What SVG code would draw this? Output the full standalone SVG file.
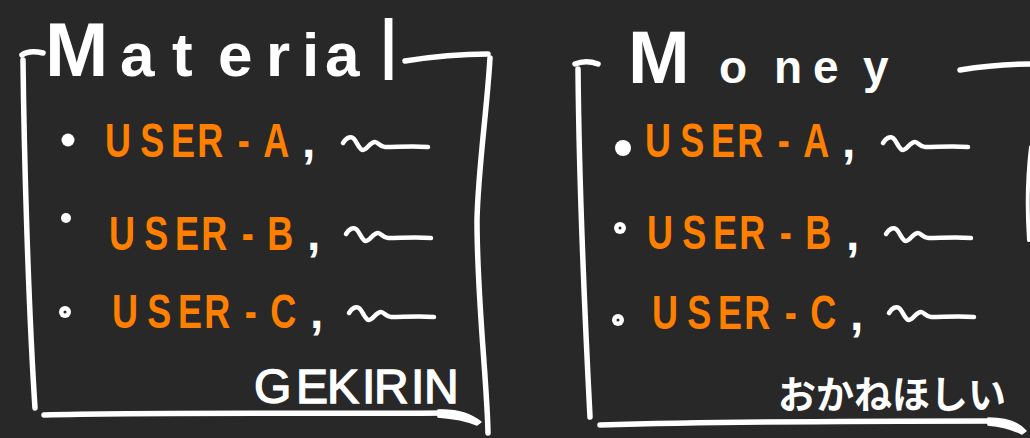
<svg xmlns="http://www.w3.org/2000/svg" xmlns:xlink="http://www.w3.org/1999/xlink" width="1030" height="438" viewBox="0 0 1030 438">
  <style>
    .frame { fill: none; stroke: #ffffff; stroke-width: 5.5; stroke-linecap: round; stroke-linejoin: round; }
    .swoosh { fill: #ffffff; stroke: #ffffff; stroke-width: 1.5; stroke-linejoin: round; }
    .title { font-family: "Liberation Sans", Arial, sans-serif; font-weight: bold; fill: #ffffff; }
    .user { font-family: "Liberation Sans", Arial, sans-serif; font-weight: bold; font-size: 48px; fill: #ff8000; }
    .comma { font-family: "Liberation Sans", Arial, sans-serif; font-weight: bold; font-size: 48px; fill: #ffffff; }
    .note { font-family: "Liberation Sans", Arial, sans-serif; font-size: 48px; fill: #ffffff; stroke: #ffffff; stroke-width: 1.4; }
    .note-jp { font-family: "Noto Sans CJK JP", sans-serif; font-weight: bold; font-size: 38px; fill: #ffffff; }
    .squiggle { fill: none; stroke: #ffffff; stroke-width: 4.5; stroke-linecap: round; stroke-linejoin: round; }
    .dot { fill: #ffffff; }
    .hole { fill: #282828; }
  </style>
  <defs>
    <!-- the little "~" tail written after each entry -->
    <path id="tilde" d="M0,0 C3,-5 7,-7 10,-5 C14,-2 16,7 20,7 C24,7 27,-1 32,-1 C35,-1 37,4 42,4 C55,4 70,3 85,4"/>
  </defs>

  <rect width="1030" height="438" fill="#282828"/>

  <!-- ===== Material box ===== -->
  <g id="material">
    <g id="material-frame">
      <path class="frame" d="M22,55 C26,52 34,51 43,53"/>
      <path class="frame" d="M23,60 C24,150 28,300 35,408"/>
      <path class="frame" d="M405,61 C430,57 460,54 488,54"/>
      <path class="frame" d="M490,58 C487,110 478,170 477,220 C477,300 487,380 488,433"/>
      <path class="frame" d="M44,415 C150,412 300,414 445,413"/>
      <path class="swoosh" d="M438,410 C458,409 471,414 481,422 L477,425 C465,420 452,418 438,417 Z"/>
    </g>
    <text class="title" y="76">
      <tspan x="45" font-size="76">M</tspan><tspan x="120" font-size="62">a</tspan><tspan x="172" font-size="62">t</tspan><tspan x="218" font-size="62">e</tspan><tspan x="266" font-size="62">r</tspan><tspan x="302" font-size="62">i</tspan><tspan x="325" font-size="62">a</tspan><tspan x="379" y="80" font-size="86" font-weight="normal">l</tspan>
    </text>

    <g id="material-a">
      <circle class="dot" cx="68" cy="140" r="6.5"/>
      <text class="user" transform="translate(105,157) scale(0.75,1)"><tspan x="0">U</tspan><tspan x="47">S</tspan><tspan x="88">E</tspan><tspan x="123">R</tspan><tspan x="177">-</tspan><tspan x="211">A</tspan></text>
      <text class="comma" x="302" y="157">,</text>
      <use xlink:href="#tilde" class="squiggle" transform="translate(343,143)"/>
    </g>
    <g id="material-b">
      <circle class="dot" cx="66" cy="218" r="5"/>
      <text class="user" transform="translate(109,250) scale(0.75,1)"><tspan x="0">U</tspan><tspan x="47">S</tspan><tspan x="88">E</tspan><tspan x="123">R</tspan><tspan x="177">-</tspan><tspan x="211">B</tspan></text>
      <text class="comma" x="307" y="250">,</text>
      <use xlink:href="#tilde" class="squiggle" transform="translate(346,234)"/>
    </g>
    <g id="material-c">
      <circle class="dot" cx="65" cy="312" r="6"/>
      <circle class="hole" cx="65" cy="312" r="1.5"/>
      <text class="user" transform="translate(112,328) scale(0.75,1)"><tspan x="0">U</tspan><tspan x="47">S</tspan><tspan x="88">E</tspan><tspan x="123">R</tspan><tspan x="177">-</tspan><tspan x="211">C</tspan></text>
      <text class="comma" x="310" y="328">,</text>
      <use xlink:href="#tilde" class="squiggle" transform="translate(349,313)"/>
    </g>

    <text class="note" y="403"><tspan x="254">G</tspan><tspan x="296">E</tspan><tspan x="327">K</tspan><tspan x="362">I</tspan><tspan x="374">R</tspan><tspan x="411">I</tspan><tspan x="424">N</tspan></text>
  </g>

  <!-- ===== Money box ===== -->
  <g id="money">
    <g id="money-frame">
      <path class="frame" d="M575,64 C582,61 590,61 598,64"/>
      <path class="frame" d="M578,69 C579,180 585,320 590,417"/>
      <path class="frame" d="M960,70 C985,66 1005,64 1034,64"/>
      <path class="frame" style="stroke-width:4" d="M1031,147 C1027,180 1027,210 1029,240"/>
      <path class="frame" d="M600,425 C750,421 900,421 995,421"/>
      <path class="swoosh" d="M988,418 C1007,418 1019,423 1026,431 L1022,434 C1010,428 1000,426 988,425 Z"/>
    </g>
    <text class="title" y="83">
      <tspan x="628" font-size="74">M</tspan><tspan x="719" font-size="46">o</tspan><tspan x="774" font-size="46">n</tspan><tspan x="813" font-size="46">e</tspan><tspan x="863" font-size="46">y</tspan>
    </text>

    <g id="money-a">
      <circle class="dot" cx="623" cy="148" r="8"/>
      <text class="user" transform="translate(645,157) scale(0.75,1)"><tspan x="0">U</tspan><tspan x="47">S</tspan><tspan x="88">E</tspan><tspan x="123">R</tspan><tspan x="177">-</tspan><tspan x="211">A</tspan></text>
      <text class="comma" x="842" y="157">,</text>
      <use xlink:href="#tilde" class="squiggle" transform="translate(883,143)"/>
    </g>
    <g id="money-b">
      <circle class="dot" cx="620" cy="228" r="6"/>
      <circle class="hole" cx="620" cy="228" r="1.5"/>
      <text class="user" transform="translate(647,249) scale(0.75,1)"><tspan x="0">U</tspan><tspan x="47">S</tspan><tspan x="88">E</tspan><tspan x="123">R</tspan><tspan x="177">-</tspan><tspan x="211">B</tspan></text>
      <text class="comma" x="846" y="250">,</text>
      <use xlink:href="#tilde" class="squiggle" transform="translate(886,234)"/>
    </g>
    <g id="money-c">
      <circle class="dot" cx="618" cy="320" r="6"/>
      <circle class="hole" cx="618" cy="320" r="1.5"/>
      <text class="user" transform="translate(652,329) scale(0.75,1)"><tspan x="0">U</tspan><tspan x="47">S</tspan><tspan x="88">E</tspan><tspan x="123">R</tspan><tspan x="177">-</tspan><tspan x="211">C</tspan></text>
      <text class="comma" x="850" y="330">,</text>
      <use xlink:href="#tilde" class="squiggle" transform="translate(889,313)"/>
    </g>

    <text class="note-jp" x="778" y="408">おかねほしい</text>
  </g>
</svg>
